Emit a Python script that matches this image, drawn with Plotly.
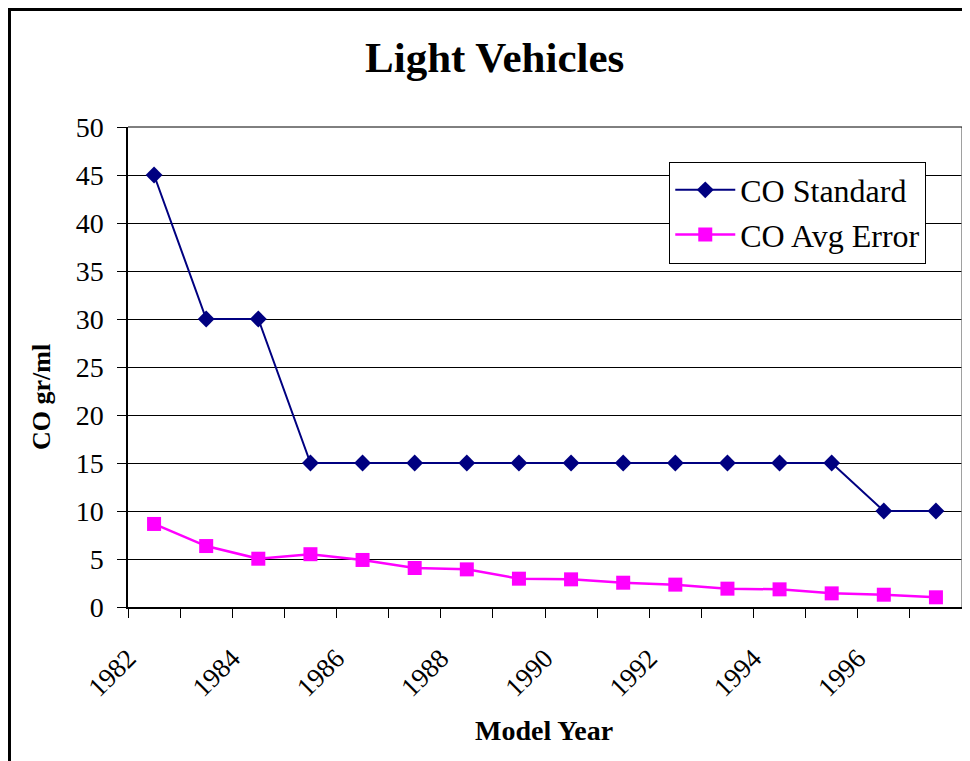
import plotly.graph_objects as go

years = [1982, 1983, 1984, 1985, 1986, 1987, 1988, 1989, 1990, 1991, 1992, 1993, 1994, 1995, 1996, 1997]
co_standard = [45, 30, 30, 15, 15, 15, 15, 15, 15, 15, 15, 15, 15, 15, 10, 10]
co_avg_error = [8.65, 6.35, 5.03, 5.5, 4.9, 4.06, 3.92, 2.95, 2.88, 2.53, 2.33, 1.91, 1.84, 1.42, 1.28, 1.01]
tick_labels = ["1982", "1984", "1986", "1988", "1990", "1992", "1994", "1996"]

FONT = "Liberation Serif"
idx = list(range(len(years)))

fig = go.Figure()
fig.add_trace(go.Scatter(
    x=idx, y=co_standard, name="CO Standard", mode="lines+markers",
    line=dict(color="#000080", width=2),
    marker=dict(symbol="diamond", size=13, color="#000080"),
))
fig.add_trace(go.Scatter(
    x=idx, y=co_avg_error, name="CO Avg Error", mode="lines+markers",
    line=dict(color="#FF00FF", width=2.5),
    marker=dict(symbol="square", size=14, color="#FF00FF"),
))

fig.update_layout(
    width=962, height=753,
    margin=dict(l=120, r=8, t=119, b=154),
    paper_bgcolor="white", plot_bgcolor="white",
    font=dict(family=FONT, color="black", size=27),
    showlegend=True,
    legend=dict(
        x=0.649, y=0.928, xanchor="left", yanchor="top",
        bgcolor="white", bordercolor="black", borderwidth=1,
        font=dict(family=FONT, size=32, color="black"),
        tracegroupgap=0, itemwidth=60,
    ),
    xaxis=dict(
        range=[-0.5, len(years) - 0.5],
        tickmode="array",
        # labels sit at the left edge of their category band (Excel-style rotated labels)
        tickvals=[years.index(int(t)) - 0.5 for t in tick_labels],
        ticktext=tick_labels,
        tickangle=-45,
        ticks="outside", ticklen=9, tickcolor="black", tickwidth=1,
        ticklabelstandoff=14,
        showgrid=False, zeroline=False,
        showline=True, linecolor="black", linewidth=1.5,
        tickfont=dict(family=FONT, size=27),
        minor=dict(ticks="outside", tick0=0.5, dtick=1, ticklen=9,
                   tickcolor="black", tickwidth=1, showgrid=False),
    ),
    yaxis=dict(
        range=[0, 50], dtick=5,
        ticks="outside", ticklen=9, tickcolor="black",
        ticklabelstandoff=8,
        showgrid=True, gridcolor="black", gridwidth=1,
        zeroline=False,
        showline=True, linecolor="black", linewidth=1.5,
        tickfont=dict(family=FONT, size=28),
    ),
    shapes=[
        dict(type="line", xref="paper", yref="paper", x0=1, x1=1, y0=0, y1=1,
             line=dict(color="#808080", width=1.5)),
        dict(type="line", xref="paper", yref="paper", x0=0, x1=1, y0=1, y1=1,
             line=dict(color="black", width=1)),
        dict(type="rect", xref="paper", yref="paper",
             x0=-0.1421, x1=1.2, y0=-0.5, y1=1.2448,
             line=dict(color="black", width=3)),
    ],
    annotations=[
        dict(text="<b>Light Vehicles</b>", xref="paper", yref="paper",
             x=(494 - 128) / 834, y=(607 - 57) / 480, xanchor="center", yanchor="middle",
             showarrow=False, font=dict(family=FONT, size=43, color="black")),
        dict(text="<b>Model Year</b>", xref="paper", yref="paper",
             x=(544 - 128) / 834, y=(607 - 730) / 480, xanchor="center", yanchor="middle",
             showarrow=False, font=dict(family=FONT, size=28, color="black")),
        dict(text="<b>CO gr/ml</b>", xref="paper", yref="paper",
             x=(41 - 128) / 834, y=(607 - 397) / 480, xanchor="center", yanchor="middle",
             textangle=-90, showarrow=False, font=dict(family=FONT, size=26, color="black")),
    ],
)

fig.write_html("out.html")
